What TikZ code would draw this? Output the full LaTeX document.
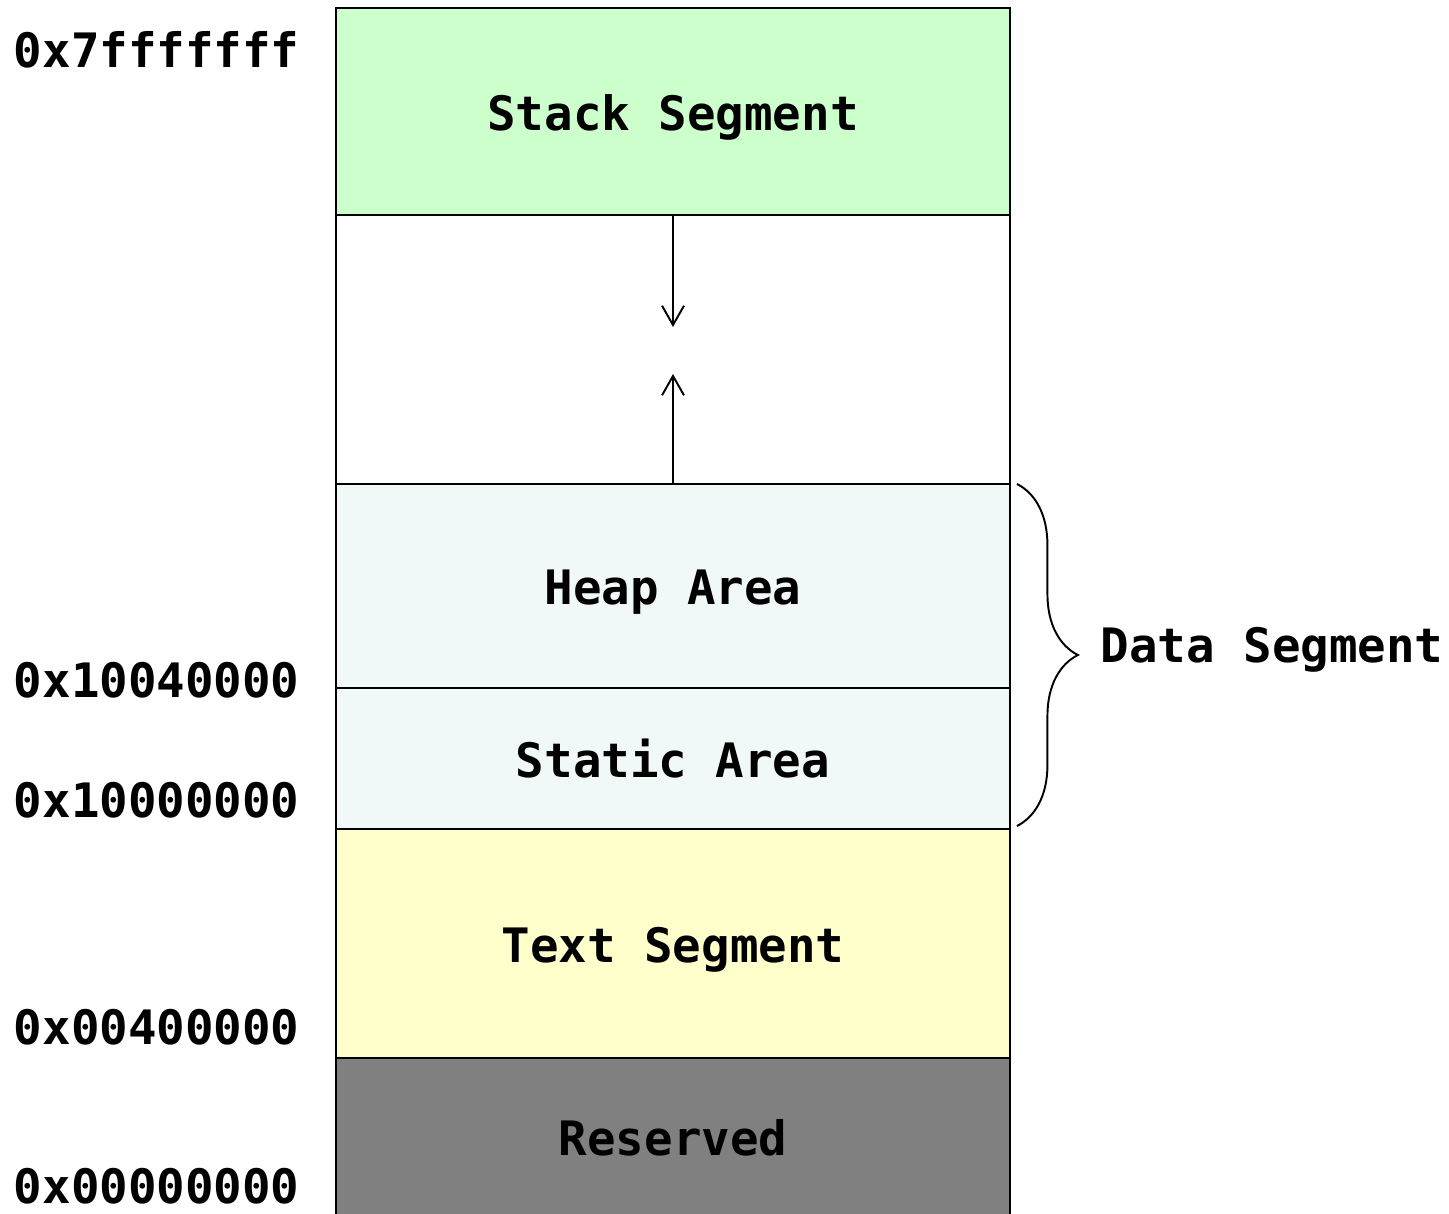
\documentclass[tikz,border=0pt]{standalone}
\usepackage{fontspec}
\setmonofont{DejaVu Sans Mono}
\usetikzlibrary{positioning,arrows.meta,decorations.pathreplacing}
\definecolor{stackgreen}{HTML}{CCFFCC}
\definecolor{dataaqua}{HTML}{F0F9F7}
\definecolor{textyellow}{HTML}{FFFFCC}
\definecolor{resgray}{HTML}{808080}
\begin{document}
\begin{tikzpicture}[x=0.02cm,y=-0.02cm,line width=1.1pt,
    font=\ttfamily\bfseries\fontsize{27}{30}\selectfont,
    seg/.style={draw,rectangle,outer sep=0pt,inner sep=0pt,minimum width=13.48cm,
        text height=21.5pt,text depth=0pt},
    addr/.style={anchor=west,inner sep=0pt},
    growarrow/.style={-{Straight Barb[length=11pt,width=12.5pt]}}]
    \def\u{0.02cm}
    \useasboundingbox (0,0) rectangle (1449,1213);
    % memory segments, top to bottom
    \node[seg,fill=stackgreen,minimum height=207*\u,anchor=north] (stack) at (673,8) {Stack Segment};
    \node[seg,fill=white,minimum height=269*\u,below=0pt of stack] (free) {};
    \node[seg,fill=dataaqua,minimum height=204*\u,below=0pt of free] (heap) {Heap Area};
    \node[seg,fill=dataaqua,minimum height=141*\u,below=0pt of heap] (static) {Static Area};
    \node[seg,fill=textyellow,minimum height=229*\u,below=0pt of static] (text) {Text Segment};
    \node[seg,fill=resgray,minimum height=158*\u,below=0pt of text] (reserved) {Reserved};
    % stack and heap grow toward each other
    \coordinate (stacktip) at (673,327);
    \coordinate (heaptip) at (673,374);
    \draw[growarrow] (stack.south) -- (stacktip);
    \draw[growarrow] (heap.north) -- (heaptip);
    % addresses
    \foreach \a/\y in {7fffffff/50,10040000/680,10000000/800,00400000/1027,00000000/1186}
        \node[addr] (addr\a) at (13,\y) {0x\a};
    % data segment brace
    \draw[decorate,decoration={brace,amplitude=1.22cm}] ([xshift=7*\u]heap.north east) -- ([xshift=7*\u,yshift=3*\u]static.south east);
    \node (dataseg) at (1272,650) {Data Segment};
\end{tikzpicture}
\end{document}
